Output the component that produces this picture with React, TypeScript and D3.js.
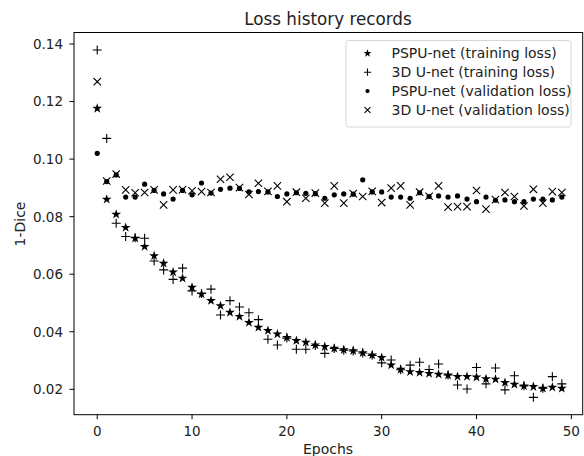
import React from "react";
import * as d3 from "d3";

const epochs = d3.range(0, 50);
const pspuTrain = [0.1176, 0.0860, 0.0808, 0.0762, 0.0725, 0.0696, 0.0664, 0.0638, 0.0607, 0.0586,
  0.0554, 0.0531, 0.0508, 0.0490, 0.0467, 0.0453, 0.0432, 0.0415, 0.0404, 0.0392,
  0.0380, 0.0369, 0.0363, 0.0354, 0.0348, 0.0342, 0.0337, 0.0334, 0.0327, 0.0319,
  0.0310, 0.0284, 0.0269, 0.0261, 0.0258, 0.0255, 0.0252, 0.0249, 0.0244, 0.0244,
  0.0242, 0.0236, 0.0235, 0.0223, 0.0217, 0.0211, 0.0209, 0.0203, 0.0207, 0.0203];
const unetTrain = [0.1379, 0.1072, 0.0777, 0.0731, 0.0727, 0.0725, 0.0646, 0.0615, 0.0582, 0.0621,
  0.0542, 0.0533, 0.0548, 0.0458, 0.0508, 0.0486, 0.0466, 0.0442, 0.0374, 0.0354,
  0.0378, 0.0339, 0.0339, 0.0352, 0.0325, 0.0342, 0.0336, 0.0333, 0.0326, 0.0318,
  0.0292, 0.0302, 0.0268, 0.0284, 0.0294, 0.0269, 0.0288, 0.0250, 0.0215, 0.0201,
  0.0276, 0.0219, 0.0274, 0.0198, 0.0247, 0.0212, 0.0172, 0.0204, 0.0244, 0.0219];
const pspuVal = [0.1020, 0.0922, 0.0945, 0.0868, 0.0868, 0.0913, 0.0891, 0.0879, 0.0861, 0.0891,
  0.0876, 0.0917, 0.0882, 0.0895, 0.0899, 0.0898, 0.0886, 0.0887, 0.0886, 0.0870,
  0.0879, 0.0883, 0.0881, 0.0880, 0.0864, 0.0876, 0.0879, 0.0878, 0.0928, 0.0886,
  0.0886, 0.0868, 0.0868, 0.0864, 0.0883, 0.0870, 0.0872, 0.0868, 0.0872, 0.0861,
  0.0852, 0.0868, 0.0857, 0.0858, 0.0852, 0.0852, 0.0861, 0.0861, 0.0858, 0.0868];
const unetVal = [0.1269, 0.0924, 0.0948, 0.0893, 0.0883, 0.0884, 0.0893, 0.0841, 0.0893, 0.0894,
  0.0890, 0.0887, 0.0884, 0.0930, 0.0937, 0.0901, 0.0877, 0.0916, 0.0888, 0.0907,
  0.0852, 0.0885, 0.0864, 0.0882, 0.0847, 0.0907, 0.0847, 0.0880, 0.0870, 0.0888,
  0.0849, 0.0899, 0.0907, 0.0841, 0.0885, 0.0871, 0.0907, 0.0833, 0.0835, 0.0835,
  0.0891, 0.0826, 0.0859, 0.0884, 0.0870, 0.0837, 0.0895, 0.0847, 0.0887, 0.0884];

const xTicks = [0, 10, 20, 30, 40, 50];
const yTicks = [0.02, 0.04, 0.06, 0.08, 0.10, 0.12, 0.14];
const legendLabels = [
  "PSPU-net (training loss)",
  "3D U-net (training loss)",
  "PSPU-net (validation loss)",
  "3D U-net (validation loss)",
];

const W = 584, H = 456;
const L = 74, R = 582.7, T = 32.5, B = 414.7;
const font = "DejaVu Sans, sans-serif";

function Marker({ kind, x, y, scale = 1 }: { kind: number; x: number; y: number; scale?: number }) {
  if (kind === 0) {
    const p = d3.symbol(d3.symbolStar, 30 * scale * scale)();
    return <path d={p || ""} transform={`translate(${x},${y})`} fill="#000" />;
  }
  if (kind === 1) {
    const s = 4.5 * scale;
    return (
      <path d={`M${x - s},${y}H${x + s}M${x},${y - s}V${y + s}`} stroke="#000" strokeWidth={1.1} fill="none" />
    );
  }
  if (kind === 2) {
    return <circle cx={x} cy={y} r={2.6 * scale} fill="#000" />;
  }
  const s = 3.7 * scale;
  return (
    <path d={`M${x - s},${y - s}L${x + s},${y + s}M${x - s},${y + s}L${x + s},${y - s}`} stroke="#000" strokeWidth={1.1} fill="none" />
  );
}

export default function App() {
  const x = d3.scaleLinear().domain([-2.45, 51.2]).range([L, R]);
  const y = d3.scaleLinear().domain([0.02, 0.14]).range([389.3, 44]);
  const series = [pspuTrain, unetTrain, pspuVal, unetVal];
  return (
    <svg width={W} height={H} style={{ position: "absolute", left: 0, top: 0, background: "#fff" }}>
      <rect x={0} y={0} width={W} height={H} fill="#fff" />
      {series.map((s, k) =>
        s.map((v, i) => <Marker key={`${k}-${i}`} kind={k} x={x(epochs[i])} y={y(v)} />)
      )}
      <rect x={L} y={T} width={R - L} height={B - T} fill="none" stroke="#000" strokeWidth={1} />
      {xTicks.map((t) => (
        <g key={t}>
          <line x1={x(t)} x2={x(t)} y1={B} y2={B + 4.5} stroke="#000" />
          <text x={x(t)} y={B + 21.5} textAnchor="middle" fontFamily={font} fontSize={13.5} fill="#222">{t}</text>
        </g>
      ))}
      {yTicks.map((t) => (
        <g key={t}>
          <line x1={L - 4.5} x2={L} y1={y(t)} y2={y(t)} stroke="#000" />
          <text x={L - 11} y={y(t)} dy="0.36em" textAnchor="end" fontFamily={font} fontSize={13.5} fill="#222">{t.toFixed(2)}</text>
        </g>
      ))}
      <text x={328} y={454} textAnchor="middle" fontFamily={font} fontSize={14} fill="#222">Epochs</text>
      <text transform={`translate(25,224) rotate(-90)`} textAnchor="middle" fontFamily={font} fontSize={14} fill="#222">1-Dice</text>
      <text x={328} y={25} textAnchor="middle" fontFamily={font} fontSize={16.8} fill="#222">Loss history records</text>
      <rect x={346} y={40.5} width={225} height={86.5} rx={2.5} fill="#fff" fillOpacity={0.8} stroke="#ccc" strokeWidth={0.8} />
      {legendLabels.map((lab, k) => (
        <g key={lab}>
          <Marker kind={k} x={367.5} y={53.3 + k * 18.9} scale={0.8} />
          <text x={391.5} y={53.3 + k * 18.9} dy="0.36em" fontFamily={font} fontSize={14} fill="#222">{lab}</text>
        </g>
      ))}
    </svg>
  );
}
